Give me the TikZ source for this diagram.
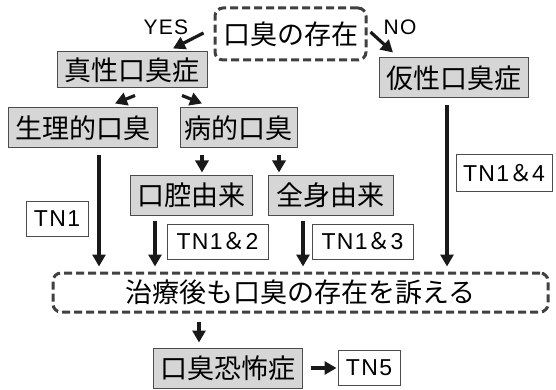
\documentclass[tikz,border=0pt]{standalone}
\usepackage{fontspec}
\setmainfont{Liberation Sans}[LetterSpace=6]
\newfontfamily\jp{Noto Sans CJK JP}
\usetikzlibrary{arrows.meta}
\tikzset{
  gbox/.style={draw=black!70, line width=1pt, fill=black!16, inner sep=0pt, font=\jp\fontsize{27}{30}\selectfont},
  wbox/.style={draw=black!70, line width=1pt, fill=white, inner sep=0pt, font=\fontsize{23}{26}\selectfont},
  dbox/.style={draw=black!75, line width=3pt, dash pattern=on 8pt off 4pt, rounded corners=8pt, inner sep=0pt, font=\jp\fontsize{27}{30}\selectfont},
  arr/.style={-{Triangle[length=12pt,width=13pt]}, line width=3.2pt, draw=black!90, fill=black!90},
  lab/.style={inner sep=0pt, font=\fontsize{21}{24}\selectfont}
}
\begin{document}
\begin{tikzpicture}[x=1pt,y=-1pt]
\useasboundingbox (0,0) rectangle (556,390);
% nodes
\node[dbox, minimum width=151pt, minimum height=52pt] (top) at (290.5,34) {口臭の存在};
\node[gbox, minimum width=150pt, minimum height=36pt] (shinsei) at (132,70) {真性口臭症};
\node[gbox, minimum width=149pt, minimum height=40pt] (kasei) at (453.5,78) {仮性口臭症};
\node[gbox, minimum width=149pt, minimum height=40pt] (seiri) at (82.5,128) {生理的口臭};
\node[gbox, minimum width=117pt, minimum height=40pt] (byou) at (238.5,128) {病的口臭};
\node[gbox, minimum width=122pt, minimum height=40pt] (koukou) at (191,195) {口腔由来};
\node[gbox, minimum width=125pt, minimum height=40pt] (zenshin) at (330.5,195) {全身由来};
\node[wbox, minimum width=62pt, minimum height=35pt] (tn1) at (57,218.5) {TN1};
\node[wbox, minimum width=101pt, minimum height=35pt] (tn12) at (217.5,241.5) {TN1{\jp ＆}2};
\node[wbox, minimum width=101pt, minimum height=35pt] (tn13) at (362.5,241.5) {TN1{\jp ＆}3};
\node[wbox, minimum width=96pt, minimum height=36pt] (tn14) at (504,173) {TN1{\jp ＆}4};
\node[dbox, minimum width=495pt, minimum height=39pt] (big) at (300.5,292.5) {治療後も口臭の存在を訴える};
\node[gbox, minimum width=149pt, minimum height=40pt] (kyoufu) at (227.5,368) {口臭恐怖症};
\node[wbox, minimum width=62pt, minimum height=35pt] (tn5) at (369,367.5) {TN5};
\node[lab] (yes) at (166,27) {YES};
\node[lab] (no) at (400,27) {NO};
% x positions for vertical connectors
\coordinate (xa) at (99,0);
\coordinate (xb) at (155,0);
\coordinate (xc) at (303,0);
\coordinate (xd) at (447,0);
\coordinate (xe) at (202,0);
\coordinate (xf) at (279,0);
\coordinate (xg) at (199,0);
% connectors
\draw[arr] ([shift={(-10,-1)}]top.west) -- ([shift={(41,-3)}]shinsei.north);
\draw[arr] ([shift={(3,-2)}]top.east) -- ([shift={(-60.5,-5)}]kasei.north);
\draw[arr] ([shift={(3,7)}]shinsei.south) -- ([shift={(32.5,-4)}]seiri.north);
\draw[arr] ([shift={(50,7)}]shinsei.south) -- ([shift={(-36.5,-4)}]byou.north);
\draw[arr, shorten <=7pt, shorten >=2pt] (byou.south -| xe) -- (koukou.north -| xe);
\draw[arr, shorten <=7pt, shorten >=2pt] (byou.south -| xf) -- (zenshin.north -| xf);
\draw[arr, shorten <=7pt, shorten >=5pt] (seiri.south -| xa) -- (big.north -| xa);
\draw[arr, shorten <=5pt, shorten >=5pt] (koukou.south -| xb) -- (big.north -| xb);
\draw[arr, shorten <=5pt, shorten >=5pt] (zenshin.south -| xc) -- (big.north -| xc);
\draw[arr, shorten <=7pt, shorten >=5pt] (kasei.south -| xd) -- (big.north -| xd);
\draw[arr, shorten <=8pt, shorten >=5pt] (big.south -| xg) -- (kyoufu.north -| xg);
\draw[arr, shorten <=8pt, shorten >=1pt] (kyoufu.east) -- (tn5.west |- kyoufu.east);
\end{tikzpicture}
\end{document}
